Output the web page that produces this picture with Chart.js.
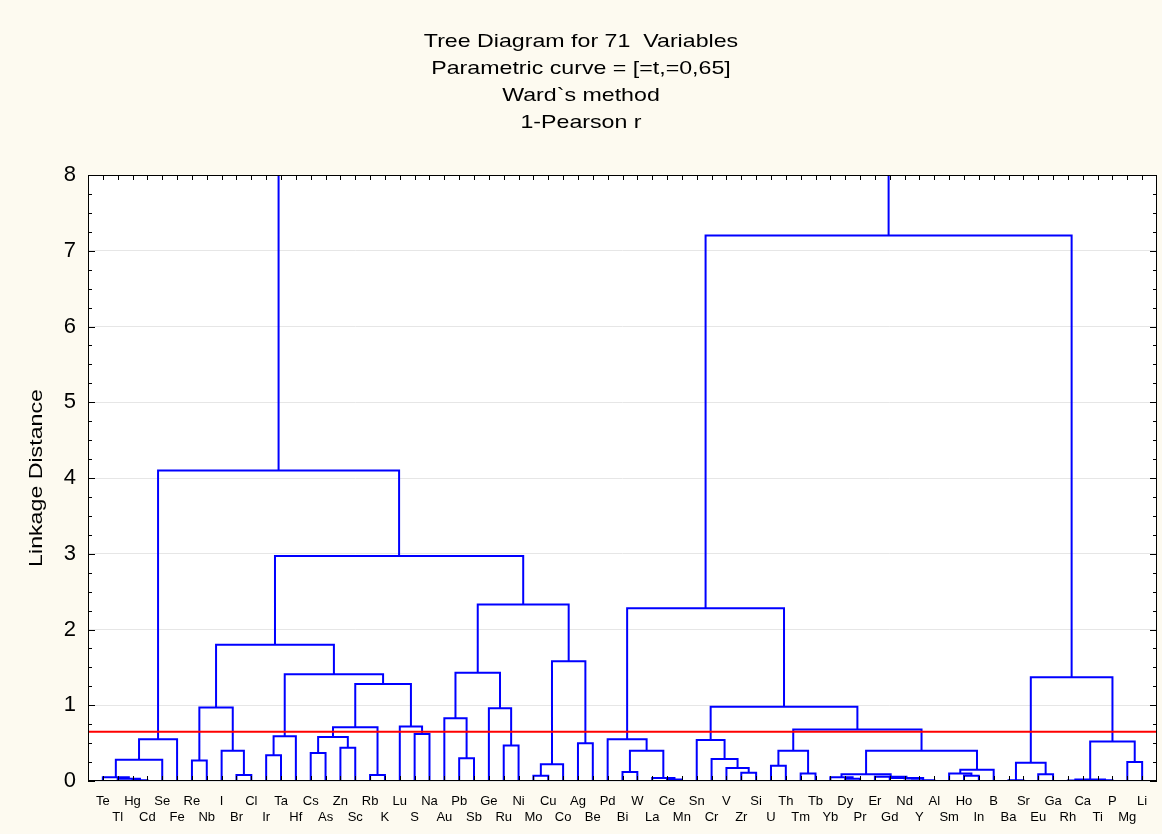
<!DOCTYPE html>
<html>
<head>
<meta charset="utf-8">
<script src="https://cdn.jsdelivr.net/npm/chart.js@4.4.0/dist/chart.umd.min.js"></script>
<style>
  html, body { margin: 0; padding: 0; background: #fdfaf0; }
  #wrap { width: 1162px; height: 834px; }
</style>
</head>
<body>
<div id="wrap"><canvas id="tree"></canvas></div>
<script>
// leaves in the order they sit along the x axis
const leafNames = [
    "Te", "Tl", "Hg", "Cd", "Se", "Fe", "Re", "Nb", "I", "Br", "Cl", "Ir", "Ta", "Hf",
    "Cs", "As", "Zn", "Sc", "Rb", "K", "Lu", "S", "Na", "Au", "Pb", "Sb", "Ge", "Ru",
    "Ni", "Mo", "Cu", "Co", "Ag", "Be", "Pd", "Bi", "W", "La", "Ce", "Mn", "Sn", "Cr",
    "V", "Zr", "Si", "U", "Th", "Tm", "Tb", "Yb", "Dy", "Pr", "Er", "Gd", "Nd", "Y",
    "Al", "Sm", "Ho", "In", "B", "Ba", "Sr", "Eu", "Ga", "Rh", "Ca", "Ti", "P", "Mg", "Li"
];

// [left, right, linkage distance]; a string is a leaf, a number is an earlier row
const linkage = [
    ["Hg", "Cd", 0.01], ["Tl", 0, 0.03], ["Te", 1, 0.05], [2, "Se", 0.28], [3, "Fe", 0.55],
    ["Re", "Nb", 0.27], ["Br", "Cl", 0.08], ["I", 6, 0.40], [5, 7, 0.97],
    ["Ir", "Ta", 0.34], [9, "Hf", 0.59],
    ["Cs", "As", 0.37], ["Zn", "Sc", 0.44], [11, 12, 0.58], ["Rb", "K", 0.08], [13, 14, 0.71],
    ["S", "Na", 0.62], ["Lu", 16, 0.72], [15, 17, 1.28], [10, 18, 1.41], [8, 19, 1.80],
    ["Pb", "Sb", 0.30], ["Au", 21, 0.83], ["Ru", "Ni", 0.47], ["Ge", 23, 0.96], [22, 24, 1.43],
    ["Mo", "Cu", 0.07], [26, "Co", 0.22], ["Ag", "Be", 0.50], [27, 28, 1.58], [25, 29, 2.33],
    [20, 30, 2.97], [4, 31, 4.10],
    ["Bi", "W", 0.12], ["Ce", "Mn", 0.02], ["La", 34, 0.04], [33, 35, 0.40], ["Pd", 36, 0.55],
    ["Zr", "Si", 0.11], ["V", 38, 0.17], ["Cr", 39, 0.29], ["Sn", 40, 0.54],
    ["U", "Th", 0.20], ["Tm", "Tb", 0.10], [42, 43, 0.40],
    ["Dy", "Pr", 0.03], ["Yb", 45, 0.05], ["Nd", "Y", 0.005], [47, "Al", 0.01], ["Gd", 48, 0.04],
    ["Er", 49, 0.055], [46, 50, 0.09],
    ["Ho", "In", 0.07], ["Sm", 52, 0.10], [53, "B", 0.15], [51, 54, 0.40],
    [44, 55, 0.68], [41, 56, 0.98], [37, 57, 2.28],
    ["Ba", "Sr", 0.01], ["Eu", "Ga", 0.09], [59, 60, 0.24],
    ["Rh", "Ca", 0.005], ["Ti", "P", 0.01], [62, 63, 0.02], ["Mg", "Li", 0.25], [64, 65, 0.52],
    [61, 66, 1.37], [58, 67, 7.20],
    [32, 68, 9.5]   // root, above the plotted range
];

const cutLevel = 0.65;
const yMax = 8;
const titleLines = ["Tree Diagram for 71  Variables", "Parametric curve = [=t,=0,65]", "Ward`s method", "1-Pearson r"];
const yTitle = "Linkage Distance";

document.addEventListener("DOMContentLoaded", function () {
    const FONT = "'Liberation Sans', Arial, sans-serif";
    const WIDE = 1.22;   // the original uses a wide-set font

    // walk the linkage table to get the bracket segments
    const nodes = [];
    const segs = [];
    function pos(ref) {
        if (typeof ref === "string") return { x: leafNames.indexOf(ref) + 1, h: 0 };
        return nodes[ref];
    }
    linkage.forEach(function (row) {
        const a = pos(row[0]), b = pos(row[1]), h = row[2];
        segs.push({ x: a.x, y: a.h }, { x: a.x, y: h }, { x: b.x, y: h }, { x: b.x, y: b.h }, { x: null, y: null });
        nodes.push({ x: (a.x + b.x) / 2, h: h });
    });

    function wideText(c, text, x, y, angle) {
        c.save();
        c.translate(x, y);
        if (angle) c.rotate(angle);
        c.scale(WIDE, 1);
        c.fillText(text, 0, 0);
        c.restore();
    }

    const paper = {
        id: "paper",
        beforeDraw(chart) {
            const c = chart.ctx, a = chart.chartArea;
            c.save();
            c.fillStyle = "#fdfaf0";
            c.fillRect(0, 0, chart.width, chart.height);
            c.fillStyle = "#ffffff";
            c.fillRect(a.left, a.top, a.right - a.left, a.bottom - a.top);
            c.restore();
        },
        afterDraw(chart) {
            const c = chart.ctx, a = chart.chartArea;
            const xs = chart.scales.x, ys = chart.scales.y;
            c.save();
            c.strokeStyle = "#000";
            c.lineWidth = 1;
            c.strokeRect(Math.round(a.left) + 0.5, Math.round(a.top) + 0.5,
                Math.round(a.right - a.left) - 1, Math.round(a.bottom - a.top) - 1);
            c.beginPath();
            for (let v = 0; v <= yMax + 1e-9; v += 0.25) {
                const y = Math.round(ys.getPixelForValue(v)) + 0.5;
                const len = Math.abs(v - Math.round(v)) < 1e-6 ? 7 : 4;
                c.moveTo(a.left, y); c.lineTo(a.left + len, y);
                c.moveTo(a.right, y); c.lineTo(a.right - len, y);
            }
            leafNames.forEach(function (n, i) {
                const x = Math.round(xs.getPixelForValue(i + 1)) + 0.5;
                c.moveTo(x, a.bottom); c.lineTo(x, a.bottom - 5);
                c.moveTo(x, a.top); c.lineTo(x, a.top + 5);
            });
            c.stroke();

            // titles
            c.fillStyle = "#000";
            c.textAlign = "center";
            c.textBaseline = "middle";
            c.font = "19px " + FONT;
            titleLines.forEach(function (t, i) {
                wideText(c, t, chart.width / 2, 42 + i * 27, 0);
            });
            wideText(c, yTitle, 37, (a.top + a.bottom) / 2, -Math.PI / 2);
            c.restore();
        }
    };

    const ctx = document.getElementById("tree").getContext("2d");
    new Chart(ctx, {
        type: "scatter",
        data: {
            datasets: [{
                label: "cut",
                data: [{ x: 0, y: cutLevel }, { x: leafNames.length + 1, y: cutLevel }],
                showLine: true,
                borderColor: "#ff0000",
                borderWidth: 2,
                pointRadius: 0
            }, {
                label: "tree",
                data: segs,
                showLine: true,
                spanGaps: false,
                borderColor: "#0000ff",
                borderWidth: 2,
                pointRadius: 0,
                borderJoinStyle: "miter"
            }]
        },
        options: {
            responsive: true,
            maintainAspectRatio: false,
            animation: false,
            devicePixelRatio: 1,
            layout: { padding: { left: 0, right: 5, top: 175, bottom: 0 } },
            plugins: {
                legend: { display: false },
                tooltip: { enabled: false },
                title: { display: false }
            },
            scales: {
                x: {
                    type: "linear",
                    min: 0,
                    max: leafNames.length + 1,
                    grid: { display: false, drawTicks: false },
                    border: { display: false },
                    afterBuildTicks(s) {
                        s.ticks = leafNames.map(function (n, i) { return { value: i + 1 }; });
                    },
                    afterFit(s) { s.height = 53; },
                    ticks: {
                        autoSkip: false,
                        maxRotation: 0,
                        minRotation: 0,
                        padding: 13,
                        color: "#000",
                        font: { family: FONT, size: 13 }, 
                        callback(v) {
                            const n = leafNames[v - 1];
                            return (v % 2 === 1) ? n : ["", n];
                        }
                    }
                },
                y: {
                    min: 0,
                    max: yMax,
                    grid: { color: "#e6e6e6", drawTicks: false },
                    border: { display: false },
                    afterFit(s) { s.width = 88; },
                    ticks: {
                        stepSize: 1,
                        padding: 12,
                        color: "#000",
                        font: { family: FONT, size: 22 }
                    }
                }
            }
        },
        plugins: [paper]
    });
});
</script>
</body>
</html>
